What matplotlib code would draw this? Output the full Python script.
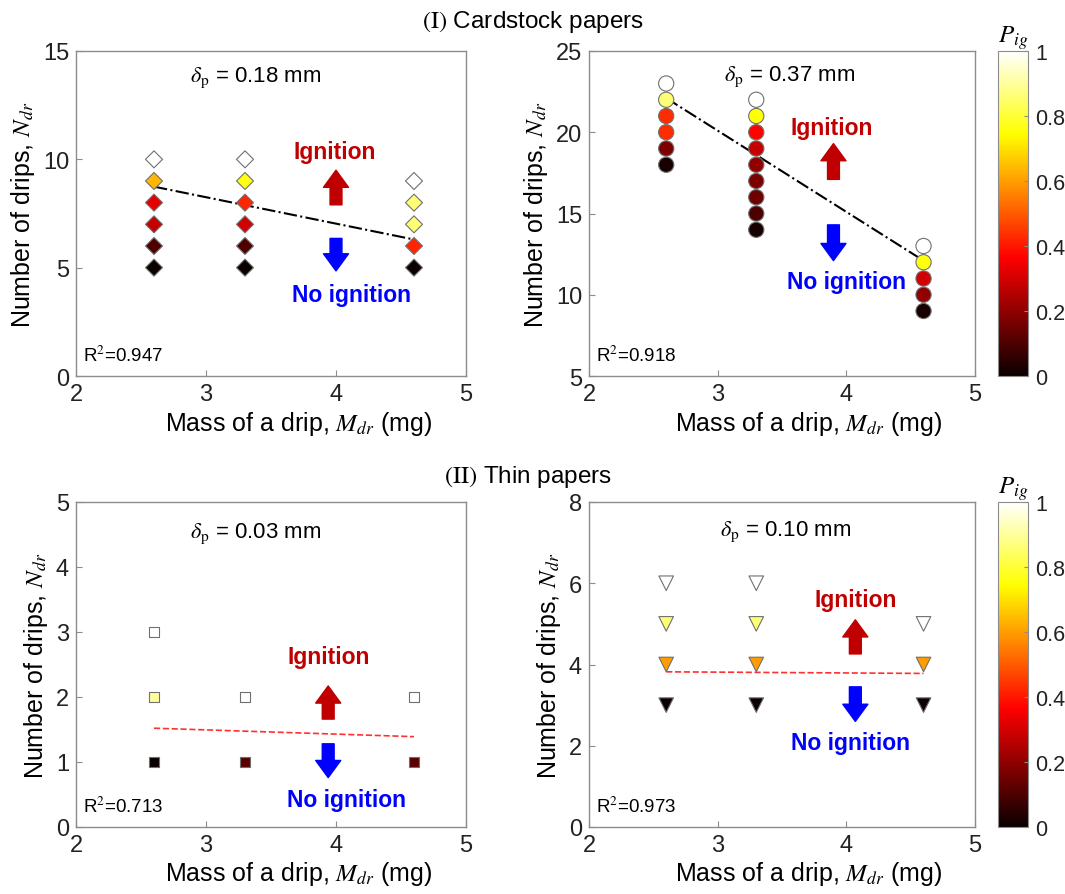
import matplotlib

matplotlib.use("Agg")

import matplotlib.pyplot as plt
from matplotlib import cm
from matplotlib.colors import Normalize

plt.rcParams["font.family"] = ["Liberation Sans", "DejaVu Sans"]
plt.rcParams["mathtext.fontset"] = "stix"

# (I) cardstock, delta_p = 0.18 mm (diamonds)
c18_x = [2.6, 2.6, 2.6, 2.6, 2.6, 2.6, 3.3, 3.3, 3.3, 3.3, 3.3, 3.3, 4.6, 4.6, 4.6, 4.6, 4.6]
c18_n = [5, 6, 7, 8, 9, 10, 5, 6, 7, 8, 9, 10, 5, 6, 7, 8, 9]
c18_p = [0.0, 0.1, 0.28, 0.33, 0.64, 1.0, 0.0, 0.1, 0.3, 0.42, 0.76, 1.0, 0.0, 0.42, 0.86, 0.86, 1.0]
c18_fit_x = [2.6, 4.6]
c18_fit_y = [8.74, 6.3]

# (I) cardstock, delta_p = 0.37 mm (circles)
c37_x = [2.6, 2.6, 2.6, 2.6, 2.6, 2.6,
         3.3, 3.3, 3.3, 3.3, 3.3, 3.3, 3.3, 3.3, 3.3,
         4.6, 4.6, 4.6, 4.6, 4.6]
c37_n = [18, 19, 20, 21, 22, 23,
         14, 15, 16, 17, 18, 19, 20, 21, 22,
         9, 10, 11, 12, 13]
c37_p = [0.02, 0.17, 0.43, 0.43, 0.86, 1.0,
         0.02, 0.1, 0.15, 0.17, 0.2, 0.28, 0.37, 0.75, 1.0,
         0.02, 0.2, 0.3, 0.76, 1.0]
c37_fit_x = [2.6, 4.6]
c37_fit_y = [22.1, 12.1]

# (II) thin, delta_p = 0.03 mm (squares)
t03_x = [2.6, 2.6, 2.6, 3.3, 3.3, 4.6, 4.6]
t03_n = [1, 2, 3, 1, 2, 1, 2]
t03_p = [0.0, 0.9, 1.0, 0.12, 1.0, 0.12, 1.0]
t03_fit_x = [2.6, 4.6]
t03_fit_y = [1.52, 1.39]

# (II) thin, delta_p = 0.10 mm (down triangles)
t10_x = [2.6, 2.6, 2.6, 2.6, 3.3, 3.3, 3.3, 3.3, 4.6, 4.6, 4.6]
t10_n = [3, 4, 5, 6, 3, 4, 5, 6, 3, 4, 5]
t10_p = [0.0, 0.6, 0.86, 1.0, 0.0, 0.6, 0.86, 1.0, 0.0, 0.6, 1.0]
t10_fit_x = [2.6, 4.6]
t10_fit_y = [3.82, 3.78]

W, H = 1065, 895
fig = plt.figure(figsize=(W / 100, H / 100), dpi=100)


def box(l, t, r, b):
    return [l / W, 1 - b / H, (r - l) / W, (b - t) / H]


GRAY = "#8c8c8c"
norm = Normalize(0, 1)
cmap = plt.get_cmap("hot")


def style_axes(ax, ylim, yticks):
    ax.set_xlim(2, 5)
    ax.set_ylim(*ylim)
    ax.set_xticks([2, 3, 4, 5])
    ax.set_yticks(yticks)
    ax.tick_params(direction="in", length=4, color=GRAY, labelsize=17, pad=5, labelcolor="#222222")
    for s in ax.spines.values():
        s.set_color(GRAY)
        s.set_linewidth(1.0)
    ax.set_xlabel(r"Mass of a drip, $M_{dr}$ (mg)", fontsize=18, labelpad=6)
    ax.xaxis.set_label_coords(0.57, -0.1)
    ax.xaxis.label.set_va("top")
    ax.set_ylabel(r"Number of drips, $N_{dr}$", fontsize=18, labelpad=4)


def arrows(ax, x, up, down, ign_xy, no_xy):
    style = "simple,head_width=0.95,head_length=0.65,tail_width=0.45"
    ax.annotate("", xy=(x, up[1]), xytext=(x, up[0]),
                arrowprops=dict(arrowstyle=style, color="#c00000", shrinkA=0, shrinkB=0,
                                mutation_scale=19))
    ax.annotate("", xy=(x, down[1]), xytext=(x, down[0]),
                arrowprops=dict(arrowstyle=style, color="#0000ff", shrinkA=0, shrinkB=0,
                                mutation_scale=19))
    ax.text(*ign_xy, "Ignition", color="#c00000", fontsize=16.5, fontweight="bold",
            ha="center", va="center")
    ax.text(*no_xy, "No ignition", color="#0000ff", fontsize=16.5, fontweight="bold",
            ha="center", va="center")


def panel(rect, x, n, p, marker, size, fit_x, fit_y, fit_style, ylim, yticks, delta, delta_pos, r2):
    ax = fig.add_axes(rect)
    ax.plot(fit_x, fit_y, **fit_style, zorder=2)
    ax.scatter(x, n, c=p, cmap=cmap, norm=norm, marker=marker, s=size,
               edgecolors="#707070", linewidths=0.8, zorder=3)
    style_axes(ax, ylim, yticks)
    ax.text(*delta_pos, r"$\delta_{\mathrm{p}}$" + " = " + delta, transform=ax.transAxes,
            fontsize=16, ha="center", va="center")
    ax.text(0.018, 0.035, r"R$^2$=" + r2, transform=ax.transAxes, fontsize=13.5,
            ha="left", va="bottom")
    return ax


black_fit = dict(color="black", linestyle="-.", linewidth=1.5)
red_fit = dict(color="#ff3030", linestyle="--", linewidth=1.2)

ax1 = panel(box(76, 52, 466, 377), c18_x, c18_n, c18_p, "D", 75, c18_fit_x, c18_fit_y, black_fit,
            (0, 15), [0, 5, 10, 15], "0.18 mm", (0.46, 0.92), "0.947")
arrows(ax1, 4.0, (7.9, 9.5), (6.35, 4.85), (3.99, 10.38), (4.12, 3.78))

ax2 = panel(box(589, 52, 975, 377), c37_x, c37_n, c37_p, "o", 120, c37_fit_x, c37_fit_y, black_fit,
            (5, 25), [5, 10, 15, 20, 25], "0.37 mm", (0.52, 0.925), "0.918")
arrows(ax2, 3.9, (17.1, 19.3), (14.3, 12.1), (3.89, 20.3), (4.0, 10.8))

ax3 = panel(box(76, 503, 466, 828), t03_x, t03_n, t03_p, "s", 50, t03_fit_x, t03_fit_y, red_fit,
            (0, 5), [0, 1, 2, 3, 4, 5], "0.03 mm", (0.46, 0.905), "0.713")
arrows(ax3, 3.94, (1.66, 2.17), (1.28, 0.76), (3.94, 2.63), (4.08, 0.43))

ax4 = panel(box(589, 503, 975, 828), t10_x, t10_n, t10_p, "v", 110, t10_fit_x, t10_fit_y, red_fit,
            (0, 8), [0, 2, 4, 6, 8], "0.10 mm", (0.51, 0.91), "0.973")
arrows(ax4, 4.07, (4.26, 5.1), (3.45, 2.6), (4.07, 5.59), (4.03, 2.09))

for top, bottom in [(52, 377), (503, 828)]:
    cax = fig.add_axes(box(998, top, 1028, bottom))
    cb = fig.colorbar(cm.ScalarMappable(norm=norm, cmap=cmap), cax=cax)
    cb.set_ticks([0, 0.2, 0.4, 0.6, 0.8, 1])
    cb.set_ticklabels(["0", "0.2", "0.4", "0.6", "0.8", "1"])
    cb.outline.set_edgecolor(GRAY)
    cax.tick_params(direction="in", length=3, color=GRAY, labelsize=15.5, pad=5,
                    labelcolor="#222222")
    cax.set_title(r"$P_{ig}$", fontsize=18, pad=3)

fig.text(533 / W, 1 - 22 / H, r"$\mathrm{(I)}$ Cardstock papers", fontsize=17.5,
         ha="center", va="center")
fig.text(528 / W, 1 - 477 / H, r"$\mathrm{(II)}$ Thin papers", fontsize=17.5,
         ha="center", va="center")

fig.savefig("out.png", dpi=100)
